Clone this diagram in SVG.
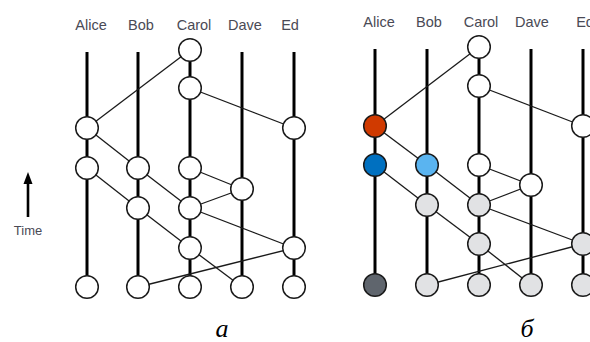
<svg xmlns="http://www.w3.org/2000/svg" width="590" height="342" viewBox="0 0 590 342">
<style>
.lbl{font-family:"Liberation Sans",Arial,sans-serif;font-size:14.5px;fill:#4a4a55;text-anchor:middle}
.time{font-family:"Liberation Sans",Arial,sans-serif;font-size:13px;fill:#4a4a55;text-anchor:middle}
.cap{font-family:"Liberation Serif","Times New Roman",serif;font-style:italic;font-size:26px;fill:#000;text-anchor:middle}
.life{stroke:#000;stroke-width:3;fill:none}
.msg{stroke:#1a1a1a;stroke-width:1.3;fill:none}
.n circle{stroke:#1a1a1a;stroke-width:1.5;fill:#fff}
.g circle{fill:#e1e2e4}
.red circle{fill:#d03a00}
.blue circle{fill:#0070c0}
.lblue circle{fill:#5ab4f0}
.dark circle{fill:#5f656d}
</style>

<!-- Time arrow -->
<g id="time">
<line x1="28" y1="217" x2="28" y2="180" stroke="#000" stroke-width="2.6"/>
<path d="M23.5,184 L28,172 L32.5,184 z" fill="#000"/>
<text class="time" x="28" y="235">Time</text>
</g>

<!-- Diagram a -->
<g id="a-labels">
<text class="lbl" x="91" y="30">Alice</text>
<text class="lbl" x="141" y="30">Bob</text>
<text class="lbl" x="194" y="30">Carol</text>
<text class="lbl" x="245" y="30">Dave</text>
<text class="lbl" x="290" y="30">Ed</text>
</g>
<g id="a-connectors">
<line class="life" x1="87" y1="52" x2="87" y2="287"/>
<line class="life" x1="138" y1="52" x2="138" y2="287"/>
<line class="life" x1="190" y1="50" x2="190" y2="287"/>
<line class="life" x1="242" y1="52" x2="242" y2="287"/>
<line class="life" x1="294" y1="52" x2="294" y2="287"/>
<line class="msg" x1="87" y1="128" x2="190" y2="50"/>
<line class="msg" x1="87" y1="128" x2="138" y2="168"/>
<line class="msg" x1="190" y1="88" x2="294" y2="128"/>
<line class="msg" x1="87" y1="168" x2="138" y2="208"/>
<line class="msg" x1="138" y1="168" x2="190" y2="208"/>
<line class="msg" x1="190" y1="168" x2="242" y2="189"/>
<line class="msg" x1="242" y1="189" x2="190" y2="208"/>
<line class="msg" x1="190" y1="208" x2="294" y2="248"/>
<line class="msg" x1="138" y1="208" x2="190" y2="248"/>
<line class="msg" x1="190" y1="248" x2="242" y2="287"/>
<line class="msg" x1="294" y1="248" x2="138" y2="287"/>
</g>
<g id="a-carol-1" class="n"><circle cx="190" cy="50" r="11.3"/></g>
<g id="a-carol-2" class="n"><circle cx="190" cy="88" r="11.3"/></g>
<g id="a-alice-1" class="n"><circle cx="87" cy="128" r="11.3"/></g>
<g id="a-ed-1" class="n"><circle cx="294" cy="128" r="11.3"/></g>
<g id="a-alice-2" class="n"><circle cx="87" cy="168" r="11.3"/></g>
<g id="a-bob-1" class="n"><circle cx="138" cy="168" r="11.3"/></g>
<g id="a-carol-3" class="n"><circle cx="190" cy="168" r="11.3"/></g>
<g id="a-dave-1" class="n"><circle cx="242" cy="189" r="11.3"/></g>
<g id="a-bob-2" class="n"><circle cx="138" cy="208" r="11.3"/></g>
<g id="a-carol-4" class="n"><circle cx="190" cy="208" r="11.3"/></g>
<g id="a-carol-5" class="n"><circle cx="190" cy="248" r="11.3"/></g>
<g id="a-ed-2" class="n"><circle cx="294" cy="248" r="11.3"/></g>
<g id="a-alice-3" class="n"><circle cx="87" cy="287" r="11.3"/></g>
<g id="a-bob-3" class="n"><circle cx="138" cy="287" r="11.3"/></g>
<g id="a-carol-6" class="n"><circle cx="190" cy="287" r="11.3"/></g>
<g id="a-dave-2" class="n"><circle cx="242" cy="287" r="11.3"/></g>
<g id="a-ed-3" class="n"><circle cx="294" cy="287" r="11.3"/></g>
<text class="cap" x="222" y="337">а</text>

<!-- Diagram b -->
<g id="b-labels">
<text class="lbl" x="379" y="27">Alice</text>
<text class="lbl" x="429" y="27">Bob</text>
<text class="lbl" x="481" y="27">Carol</text>
<text class="lbl" x="532" y="27">Dave</text>
<text class="lbl" x="585" y="27">Ed</text>
</g>
<g id="b-connectors">
<line class="life" x1="375" y1="49" x2="375" y2="285"/>
<line class="life" x1="427" y1="49" x2="427" y2="285"/>
<line class="life" x1="479" y1="47" x2="479" y2="285"/>
<line class="life" x1="531" y1="49" x2="531" y2="285"/>
<line class="life" x1="583" y1="49" x2="583" y2="285"/>
<line class="msg" x1="375" y1="126" x2="479" y2="47"/>
<line class="msg" x1="375" y1="126" x2="427" y2="165"/>
<line class="msg" x1="479" y1="86" x2="583" y2="126"/>
<line class="msg" x1="375" y1="165" x2="427" y2="205"/>
<line class="msg" x1="427" y1="165" x2="479" y2="205"/>
<line class="msg" x1="479" y1="165" x2="531" y2="185"/>
<line class="msg" x1="531" y1="185" x2="479" y2="205"/>
<line class="msg" x1="479" y1="205" x2="583" y2="244"/>
<line class="msg" x1="427" y1="205" x2="479" y2="244"/>
<line class="msg" x1="479" y1="244" x2="531" y2="285"/>
<line class="msg" x1="583" y1="244" x2="427" y2="285"/>
</g>
<g id="b-carol-1" class="n"><circle cx="479" cy="47" r="11.3"/></g>
<g id="b-carol-2" class="n"><circle cx="479" cy="86" r="11.3"/></g>
<g id="b-alice-1" class="n red"><circle cx="375" cy="126" r="11.3"/></g>
<g id="b-ed-1" class="n"><circle cx="583" cy="126" r="11.3"/></g>
<g id="b-alice-2" class="n blue"><circle cx="375" cy="165" r="11.3"/></g>
<g id="b-bob-1" class="n lblue"><circle cx="427" cy="165" r="11.3"/></g>
<g id="b-carol-3" class="n"><circle cx="479" cy="165" r="11.3"/></g>
<g id="b-dave-1" class="n"><circle cx="531" cy="185" r="11.3"/></g>
<g id="b-bob-2" class="n g"><circle cx="427" cy="205" r="11.3"/></g>
<g id="b-carol-4" class="n g"><circle cx="479" cy="205" r="11.3"/></g>
<g id="b-carol-5" class="n g"><circle cx="479" cy="244" r="11.3"/></g>
<g id="b-ed-2" class="n g"><circle cx="583" cy="244" r="11.3"/></g>
<g id="b-alice-3" class="n dark"><circle cx="375" cy="285" r="11.3"/></g>
<g id="b-bob-3" class="n g"><circle cx="427" cy="285" r="11.3"/></g>
<g id="b-carol-6" class="n g"><circle cx="479" cy="285" r="11.3"/></g>
<g id="b-dave-2" class="n g"><circle cx="531" cy="285" r="11.3"/></g>
<g id="b-ed-3" class="n g"><circle cx="583" cy="285" r="11.3"/></g>
<text class="cap" x="527" y="337">б</text>
</svg>
